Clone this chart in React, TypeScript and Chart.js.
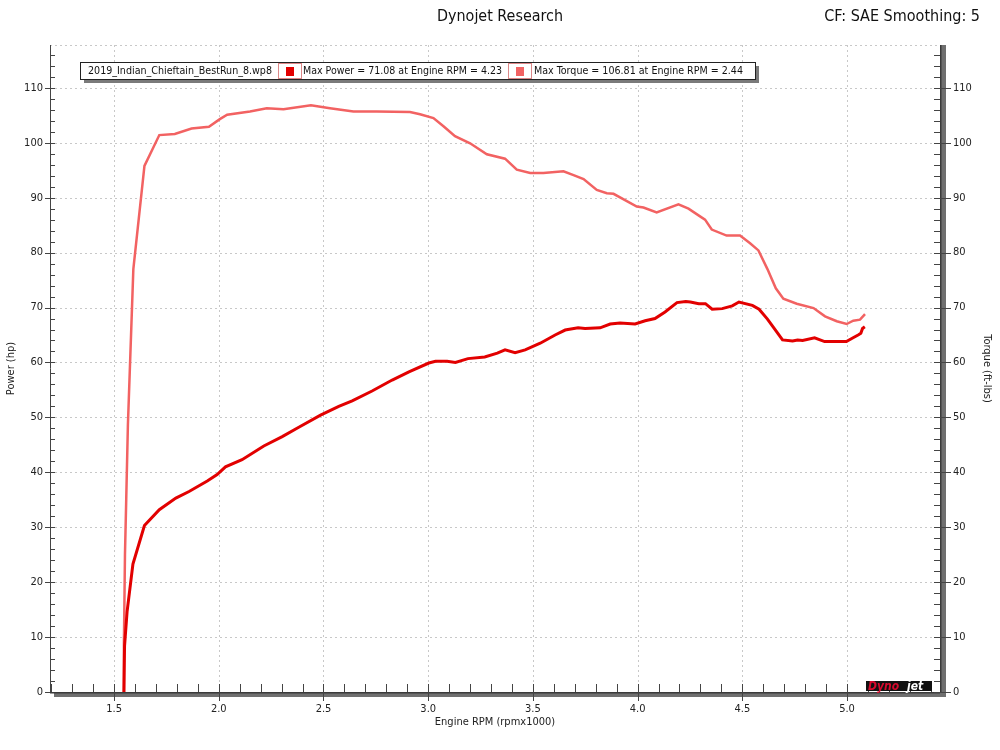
import React, { useEffect, useRef } from "react";
import { Chart, registerables } from "chart.js";

Chart.register(...registerables);

const FONT = '"DejaVu Sans Condensed", "Liberation Sans", "DejaVu Sans", sans-serif';

// ---- data ----
const powerRpm = [
  1.547, 1.55, 1.562, 1.59, 1.645, 1.716, 1.795, 1.858, 1.945, 1.992, 2.032, 2.111, 2.215, 2.303,
  2.382, 2.486, 2.573, 2.637, 2.732, 2.828, 2.908, 3.003, 3.035, 3.09, 3.13, 3.19, 3.27, 3.33,
  3.367, 3.415, 3.463, 3.535, 3.606, 3.654, 3.716, 3.749, 3.821, 3.869, 3.916, 3.988, 4.036,
  4.083, 4.131, 4.188, 4.23, 4.252, 4.292, 4.324, 4.356, 4.404, 4.452, 4.484, 4.548, 4.58, 4.62,
  4.66, 4.692, 4.74, 4.764, 4.788, 4.845, 4.893, 4.949, 4.997, 5.029, 5.053, 5.066, 5.074, 5.085,
];
const powerHp = [
  0, 8.4, 14.6, 23.3, 30.3, 33.2, 35.3, 36.5, 38.4, 39.6, 41.0, 42.3, 44.8, 46.5,
  48.2, 50.4, 52.0, 53.0, 54.8, 56.8, 58.3, 59.9, 60.2, 60.2, 60.0, 60.7, 61.0, 61.7,
  62.3, 61.8, 62.3, 63.5, 65.0, 65.9, 66.3, 66.2, 66.3, 67.0, 67.2, 67.0, 67.6,
  68.0, 69.2, 70.9, 71.08, 71.0, 70.7, 70.7, 69.7, 69.8, 70.3, 71.0, 70.4, 69.7, 67.9,
  65.8, 64.1, 63.9, 64.1, 64.0, 64.5, 63.8, 63.8, 63.8, 64.5, 65.0, 65.3, 66.2, 66.5,
];
const torqueRpm = [
  1.546, 1.547, 1.552, 1.558, 1.566, 1.592, 1.645, 1.716, 1.79, 1.87, 1.953, 2.005, 2.04, 2.149,
  2.229, 2.309, 2.44, 2.531, 2.643, 2.754, 2.913, 2.961, 3.025, 3.073, 3.128, 3.2, 3.28, 3.367,
  3.423, 3.487, 3.55, 3.646, 3.694, 3.742, 3.805, 3.853, 3.885, 3.996, 4.028, 4.091, 4.195,
  4.243, 4.298, 4.322, 4.354, 4.425, 4.489, 4.537, 4.577, 4.62, 4.66, 4.696, 4.76, 4.84, 4.895,
  4.951, 4.998, 5.03, 5.062, 5.086,
];
const torqueFtLbs = [
  0, 9, 25, 35, 48.6, 77, 95.8, 101.4, 101.6, 102.6, 102.9, 104.3, 105.1, 105.7,
  106.3, 106.1, 106.81, 106.3, 105.7, 105.7, 105.6, 105.2, 104.5, 103.0, 101.2, 99.9, 97.9, 97.1,
  95.1, 94.5, 94.5, 94.8, 94.1, 93.4, 91.4, 90.8, 90.7, 88.4, 88.2, 87.3, 88.8,
  88.0, 86.6, 86.0, 84.2, 83.1, 83.1, 81.7, 80.4, 77.0, 73.5, 71.6, 70.7, 69.9, 68.4,
  67.5, 67.0, 67.6, 67.8, 68.8,
];

const headerTitle = "Dynojet Research";
const headerRight = "CF: SAE Smoothing: 5";
const runName = "2019_Indian_Chieftain_BestRun_8.wp8";
const powerLabel = "Max Power = 71.08 at Engine RPM = 4.23";
const torqueLabel = "Max Torque = 106.81 at Engine RPM = 2.44";

const POWER_COLOR = "rgb(226,0,0)";
const TORQUE_COLOR = "rgb(242,98,98)";

const dynoPlugin = {
  id: "dyno",
  beforeDatasetsDraw(chart: any) {
    const { ctx, chartArea, scales } = chart;
    const xs = scales.x;
    const ys = scales.y;
    ctx.save();
    ctx.strokeStyle = "#c8c8c8";
    ctx.lineWidth = 1;
    ctx.setLineDash([2, 3]);
    xs.ticks.forEach((t: any) => {
      const px = Math.round(xs.getPixelForValue(t.value)) + 0.5;
      ctx.beginPath();
      ctx.moveTo(px, chartArea.top);
      ctx.lineTo(px, chartArea.bottom);
      ctx.stroke();
    });
    ys.ticks.forEach((t: any) => {
      if (t.value === 0) return;
      const py = Math.round(ys.getPixelForValue(t.value)) + 0.5;
      ctx.beginPath();
      ctx.moveTo(chartArea.left, py);
      ctx.lineTo(chartArea.right, py);
      ctx.stroke();
    });
    ctx.beginPath();
    ctx.moveTo(chartArea.left, chartArea.top + 0.5);
    ctx.lineTo(chartArea.right, chartArea.top + 0.5);
    ctx.stroke();
    ctx.restore();
  },
  afterDatasetsDraw(chart: any) {
    const { ctx, chartArea, scales } = chart;
    const xs = scales.x;
    const ys = scales.y;
    const { left, right, top, bottom } = chartArea;
    ctx.save();
    ctx.setLineDash([]);

    // left axis
    ctx.strokeStyle = "#444";
    ctx.lineWidth = 1;
    ctx.beginPath();
    ctx.moveTo(left + 0.5, top);
    ctx.lineTo(left + 0.5, bottom);
    ctx.stroke();
    for (let i = 0; i <= 116; i += 2) {
      const py = Math.round(ys.getPixelForValue(i)) + 0.5;
      ctx.beginPath();
      if (i % 10 === 0) {
        ctx.moveTo(left - 5, py);
        ctx.lineTo(left + 5, py);
      } else {
        ctx.moveTo(left, py);
        ctx.lineTo(left + 5, py);
      }
      ctx.stroke();
    }

    // bottom bar
    ctx.fillStyle = "#6f6f6f";
    ctx.fillRect(left + 4, bottom, right - left + 2, 5);
    ctx.fillStyle = "#3a3a3a";
    ctx.fillRect(left, bottom, right - left, 1.5);
    ctx.strokeStyle = "#444";
    for (let i = 12; i <= 54; i++) {
      const px = Math.round(xs.getPixelForValue(i / 10)) + 0.5;
      if (px < left || px > right) continue;
      ctx.beginPath();
      if (i % 5 === 0) {
        ctx.moveTo(px, bottom - 8);
        ctx.lineTo(px, bottom + 9);
      } else {
        ctx.moveTo(px, bottom - 8);
        ctx.lineTo(px, bottom);
      }
      ctx.stroke();
    }

    // right bar
    ctx.fillStyle = "#6f6f6f";
    ctx.fillRect(right, top, 6, bottom - top + 5);
    ctx.fillStyle = "#3a3a3a";
    ctx.fillRect(right, top, 1.5, bottom - top);
    ctx.strokeStyle = "#444";
    for (let i = 0; i <= 116; i += 2) {
      const py = Math.round(ys.getPixelForValue(i)) + 0.5;
      ctx.beginPath();
      if (i % 10 === 0) {
        ctx.moveTo(right - 6, py);
        ctx.lineTo(right + 11, py);
      } else {
        ctx.moveTo(right - 6, py);
        ctx.lineTo(right, py);
      }
      ctx.stroke();
    }

    // legend box
    const bx = 80, by = 62, bw = 675, bh = 17;
    ctx.fillStyle = "#7a7a7a";
    ctx.fillRect(bx + 4, by + 4, bw, bh);
    ctx.fillStyle = "#fff";
    ctx.fillRect(bx, by, bw, bh);
    ctx.strokeStyle = "#222";
    ctx.lineWidth = 1;
    ctx.strokeRect(bx + 0.5, by + 0.5, bw, bh);
    ctx.font = "11px " + FONT;
    ctx.fillStyle = "#111";
    ctx.textBaseline = "middle";
    ctx.textAlign = "left";
    const ty = by + bh / 2 + 1;
    ctx.fillText(runName, 88, ty, 184);
    ctx.strokeStyle = "#d88";
    ctx.strokeRect(278.5, by + 1.5, 23, bh - 2);
    ctx.fillStyle = POWER_COLOR;
    ctx.fillRect(286, by + 5, 8, 9);
    ctx.fillStyle = "#111";
    ctx.fillText(powerLabel, 303, ty, 199);
    ctx.strokeStyle = "#d88";
    ctx.strokeRect(508.5, by + 1.5, 23, bh - 2);
    ctx.fillStyle = TORQUE_COLOR;
    ctx.fillRect(516, by + 5, 8, 9);
    ctx.fillStyle = "#111";
    ctx.fillText(torqueLabel, 534, ty, 209);

    // header
    ctx.font = "16px " + FONT;
    ctx.fillStyle = "#111";
    ctx.textAlign = "center";
    ctx.fillText(headerTitle, 500, 17, 126);
    ctx.textAlign = "right";
    ctx.fillText(headerRight, 980, 17, 161);

    // logo
    ctx.fillStyle = "#111";
    ctx.fillRect(866, 681, 66, 10);
    ctx.font = "italic bold 12px " + FONT;
    ctx.textAlign = "left";
    ctx.textBaseline = "alphabetic";
    ctx.fillStyle = "rgb(215,10,45)";
    ctx.fillText("Dyno", 868, 690, 38);
    ctx.fillStyle = "#fff";
    ctx.fillText("jet", 907, 690, 24);
    ctx.restore();
  },
};

export default function App() {
  const ref = useRef<HTMLCanvasElement | null>(null);
  useEffect(() => {
    document.body.style.margin = "0";
    Chart.defaults.font.family = FONT;
    const canvas = ref.current!;
    const chart = new Chart(canvas, {
      type: "line",
      data: {
        datasets: [
          {
            label: "Torque",
            data: torqueRpm.map((x, i) => ({ x, y: torqueFtLbs[i] })),
            yAxisID: "y1",
            borderColor: TORQUE_COLOR,
            borderWidth: 2.5,
            pointRadius: 0,
            tension: 0,
            order: 2,
          },
          {
            label: "Power",
            data: powerRpm.map((x, i) => ({ x, y: powerHp[i] })),
            yAxisID: "y",
            borderColor: POWER_COLOR,
            borderWidth: 3,
            pointRadius: 0,
            tension: 0,
            order: 1,
          },
        ],
      },
      options: {
        animation: false,
        responsive: false,
        devicePixelRatio: 1,
        layout: { padding: { top: 45, left: 0, right: 0, bottom: 0 } },
        plugins: {
          legend: { display: false },
          tooltip: { enabled: false },
          title: { display: false },
        },
        scales: {
          x: {
            type: "linear",
            min: 1.194,
            max: 5.444,
            grid: { display: false, drawTicks: false },
            border: { display: false },
            ticks: {
              stepSize: 0.5,
              includeBounds: false,
              autoSkip: false,
              maxRotation: 0,
              padding: 11,
              color: "#222",
              font: { size: 11 },
              callback: (v: any) => Number(v).toFixed(1),
            },
            title: {
              display: true,
              text: "Engine RPM (rpmx1000)",
              color: "#222",
              font: { size: 11 },
              padding: { top: 0, bottom: 21 },
            },
            afterFit: (s: any) => {
              s.height = 58;
            },
          },
          y: {
            type: "linear",
            position: "left",
            min: 0,
            max: 117.8,
            grid: { display: false, drawTicks: false },
            border: { display: false },
            ticks: {
              stepSize: 10,
              includeBounds: false,
              autoSkip: false,
              padding: 7,
              color: "#222",
              font: { size: 11 },
            },
            title: {
              display: true,
              text: "Power (hp)",
              color: "#222",
              font: { size: 11 },
              padding: { top: 5, bottom: 0 },
            },
            afterFit: (s: any) => {
              s.width = 50;
            },
          },
          y1: {
            type: "linear",
            position: "right",
            min: 0,
            max: 117.8,
            grid: { display: false, drawTicks: false },
            border: { display: false },
            ticks: {
              stepSize: 10,
              includeBounds: false,
              autoSkip: false,
              padding: 13,
              color: "#222",
              font: { size: 11 },
            },
            title: {
              display: true,
              text: "Torque (ft-lbs)",
              color: "#222",
              font: { size: 11 },
              padding: { top: 7, bottom: 0 },
            },
            afterFit: (s: any) => {
              s.width = 60;
            },
          },
        },
      },
      plugins: [dynoPlugin],
    });
    return () => chart.destroy();
  }, []);
  return (
    <div style={{ width: 1000, height: 750, position: "relative", background: "#fff" }}>
      <canvas ref={ref} width={1000} height={750} />
    </div>
  );
}
